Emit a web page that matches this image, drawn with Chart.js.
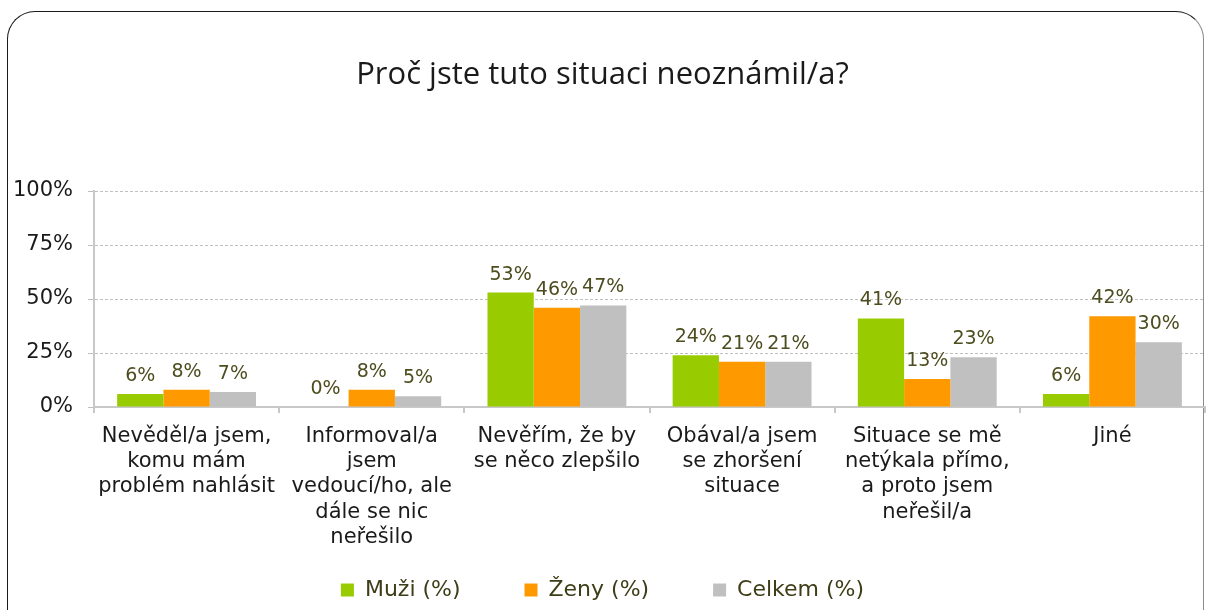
<!DOCTYPE html>
<html><head><meta charset="utf-8">
<script src="https://cdn.jsdelivr.net/npm/chart.js@4.4.1/dist/chart.umd.min.js"></script>
<style>
html,body{margin:0;padding:0;background:#fff;overflow:hidden;}
#wrap{position:relative;width:1206px;height:610px;overflow:hidden;}
#frame{position:absolute;left:7px;top:11px;width:1197px;height:660px;border:1.5px solid #1a1a1a;border-right-color:#8c8c8c;border-radius:28px;box-sizing:border-box;}
canvas{position:absolute;left:0;top:0;}
</style></head>
<body><div id="wrap"><div id="frame"></div><canvas id="c" width="1206" height="610"></canvas></div>
<script>
const chartTitle = 'Proč jste tuto situaci neoznámil/a?';
const categories = [
  ['Nevěděl/a jsem,', 'komu mám', 'problém nahlásit'],
  ['Informoval/a', 'jsem', 'vedoucí/ho, ale', 'dále se nic', 'neřešilo'],
  ['Nevěřím, že by', 'se něco zlepšilo'],
  ['Obával/a jsem', 'se zhoršení', 'situace'],
  ['Situace se mě', 'netýkala přímo,', 'a proto jsem', 'neřešil/a'],
  ['Jiné']
];
const seriesNames = ['Muži (%)', 'Ženy (%)', 'Celkem (%)'];
const muzi = [6, 0, 53, 24, 41, 6];
const zeny = [8, 8, 46, 21, 13, 42];
const celkem = [7, 5, 47, 21, 23, 30];
const yTickValues = [0, 25, 50, 75, 100];

const colors = ['#99CC00', '#FF9900', '#C0C0C0'];
const FONT = '"DejaVu Sans", Verdana, sans-serif';
const LEGEND_PAD = 22;
const LEGEND_GAP = '      ';
const LAYOUT_BOTTOM = -1;
const PLOT_BOTTOM = 407;

const dataLabels = {
  id: 'dataLabels',
  afterDatasetsDraw(chart) {
    const ctx = chart.ctx;
    ctx.save();
    ctx.font = '19px ' + FONT;
    ctx.fillStyle = '#4d4d1f';
    ctx.textAlign = 'center';
    ctx.textBaseline = 'alphabetic';
    chart.data.datasets.forEach((ds, i) => {
      const meta = chart.getDatasetMeta(i);
      meta.data.forEach((bar, j) => {
        ctx.fillText(ds.data[j] + '%', bar.x, bar.y - 13);
      });
    });
    ctx.restore();
  }
};

new Chart(document.getElementById('c'), {
  type: 'bar',
  data: {
    labels: categories,
    datasets: [
      { label: seriesNames[0], data: muzi, backgroundColor: colors[0] },
      { label: seriesNames[1], data: zeny, backgroundColor: colors[1] },
      { label: seriesNames[2], data: celkem, backgroundColor: colors[2] }
    ]
  },
  options: {
    responsive: false,
    animation: false,
    devicePixelRatio: 1,
    datasets: { bar: { categoryPercentage: 0.75, barPercentage: 1.0, borderWidth: 0 } },
    layout: { padding: { left: 0, right: 1, top: 0, bottom: LAYOUT_BOTTOM } },
    plugins: {
      tooltip: { enabled: false },
      title: {
        display: true,
        text: chartTitle,
        color: '#1a1a1a',
        font: { family: '"Open Sans", sans-serif', size: 31, weight: 'normal', lineHeight: 1.2 },
        padding: { top: 57, bottom: 96.8 }
      },
      legend: {
        position: 'bottom',
        labels: {
          color: '#3d3d17',
          font: { family: FONT, size: 22 },
          boxWidth: 13,
          boxHeight: 13,
          padding: LEGEND_PAD,
          generateLabels(chart) {
            const items = Chart.defaults.plugins.legend.labels.generateLabels(chart);
            items.forEach((it, i) => { if (i < items.length - 1) it.text = it.text + LEGEND_GAP; });
            return items;
          }
        }
      }
    },
    scales: {
      x: {
        grid: { offset: true, drawOnChartArea: false, color: '#c8c8c8', lineWidth: 2, tickLength: 6 },
        border: { color: '#c8c8c8', width: 2 },
        ticks: {
          color: '#1a1a1a',
          font: { family: FONT, size: 21, lineHeight: 1.2 },
          autoSkip: false, maxRotation: 0, minRotation: 0, padding: 11
        },
        afterFit(s) {
          s.height = s.chart.height - LAYOUT_BOTTOM - s.chart.legend.height - PLOT_BOTTOM;
        }
      },
      y: {
        min: 0, max: 100,
        afterBuildTicks(s) { s.ticks = yTickValues.map(v => ({ value: v })); },
        grid: { color: '#bfbfbf', lineWidth: 1, tickLength: 6, tickColor: '#bfbfbf', tickBorderDash: [] },
        border: { color: '#c8c8c8', width: 2, dash: [3, 2] },
        ticks: {
          color: '#1a1a1a',
          font: { family: FONT, size: 21 },
          padding: 15,
          callback: v => v + '%'
        },
        afterFit(s) { s.width = 94; }
      }
    }
  },
  plugins: [dataLabels]
});
</script>
</body></html>
